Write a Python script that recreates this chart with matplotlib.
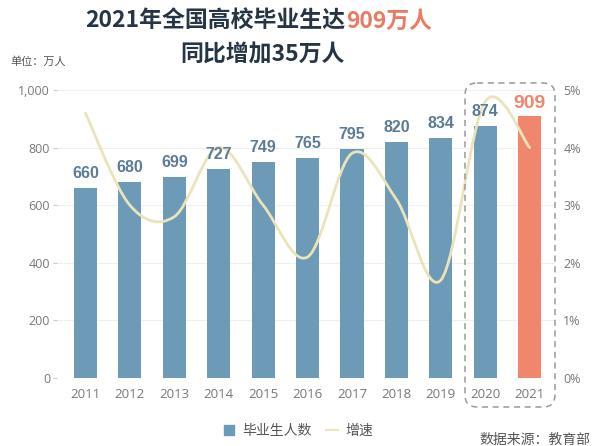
import matplotlib
matplotlib.use("Agg")
import matplotlib.pyplot as plt
import numpy as np
from matplotlib.path import Path
from matplotlib.patches import PathPatch, FancyBboxPatch
from matplotlib.lines import Line2D

plt.rcParams['font.family'] = ['Noto Sans CJK SC', 'DejaVu Sans']

# ---- data (万人 / %) ----
years = ["2011", "2012", "2013", "2014", "2015", "2016",
         "2017", "2018", "2019", "2020", "2021"]
graduates = [660, 680, 699, 727, 749, 765, 795, 820, 834, 874, 909]
growth = [4.6, 3.0, 2.8, 4.0, 3.0, 2.1, 3.9, 3.1, 1.7, 4.8, 4.0]
left_ticks = [0, 200, 400, 600, 800, 1000]
right_ticks = [0, 1, 2, 3, 4, 5]

BLUE = "#6d9ab7"
SALMON = "#f0866c"
NAVY = "#263545"
LABEL_BLUE = "#5b7b96"
LINE_COL = "#ebe3b9"
GREY = "#777777"


def smooth_path(xs, ys):
    """Catmull-Rom curve through the points, as cubic Bezier segments."""
    pts = np.column_stack([xs, ys]).astype(float)
    verts = [pts[0]]
    codes = [Path.MOVETO]
    n = len(pts)
    for i in range(n - 1):
        p0 = pts[i - 1] if i > 0 else pts[i]
        p1, p2 = pts[i], pts[i + 1]
        p3 = pts[i + 2] if i + 2 < n else pts[i + 1]
        c1 = p1 + (p2 - p0) / 6.0
        c2 = p2 - (p3 - p1) / 6.0
        verts += [c1, c2, p2]
        codes += [Path.CURVE4] * 3
    return Path(verts, codes)


fig = plt.figure(figsize=(5.96, 4.46), dpi=100, facecolor="white")
ax = fig.add_axes([57 / 596, 1 - 378 / 446, (555 - 57) / 596, (378 - 90) / 446])

x = np.arange(len(years))
colors = [BLUE] * (len(years) - 1) + [SALMON]
ax.bar(x, graduates, width=0.52, color=colors, zorder=2)

ax.set_xlim(-0.64, 10.57)
ax.set_ylim(0, 1000)
ax.set_yticks(left_ticks)
ax.set_yticklabels([f"{t:,}" for t in left_ticks])
ax.set_xticks(x)
ax.set_xticklabels(years)
ax.grid(axis="y", color="#efefef", lw=0.8, zorder=0)
for s in ax.spines.values():
    s.set_visible(False)
ax.tick_params(axis="y", length=3, color="#cccccc", labelcolor=GREY,
               labelsize=9, pad=2)
ax.tick_params(axis="x", length=0, labelcolor=GREY, labelsize=9.5, pad=7)
for t in ax.get_xticklabels() + ax.get_yticklabels():
    t.set_family(["Open Sans", "DejaVu Sans"])

ax2 = ax.twinx()
ax2.set_ylim(0, 5)
ax2.set_yticks(right_ticks)
ax2.set_yticklabels([f"{t}%" for t in right_ticks])
for s in ax2.spines.values():
    s.set_visible(False)
ax2.tick_params(axis="y", length=0, labelcolor=GREY, labelsize=9, pad=6)
for t in ax2.get_yticklabels():
    t.set_family(["Open Sans", "DejaVu Sans"])
ax2.add_patch(PathPatch(smooth_path(x, growth), fill=False, edgecolor=LINE_COL,
                        lw=2.0, zorder=3, capstyle="round"))

# value labels sit above the growth line
for xi, v, c in zip(x, graduates, colors):
    last = xi == len(years) - 1
    ax2.annotate(f"{v}", (xi, v), xycoords=ax.transData,
                 xytext=(0, 5 if not last else 3),
                 textcoords="offset points", ha="center", va="bottom",
                 fontsize=14 if last else 11.5, fontweight="bold",
                 color=SALMON if last else LABEL_BLUE,
                 family=["Liberation Sans", "DejaVu Sans"], zorder=5)

# overlay in pixel coordinates for box, titles, legend
ov = fig.add_axes([0, 0, 1, 1], facecolor="none")
ov.set_xlim(0, 596)
ov.set_ylim(446, 0)
ov.axis("off")

ov.add_patch(FancyBboxPatch((465, 83), 90, 324,
                            boxstyle="round,pad=0,rounding_size=12",
                            fill=False, edgecolor="#9a9a9a", lw=1.1,
                            linestyle=(0, (4, 3))))

ov.text(345, 21, "2021年全国高校毕业生达", ha="right", va="center",
        fontsize=16.5, fontweight="heavy", color=NAVY)
ov.text(346, 21, "909万人", ha="left", va="center",
        fontsize=16.5, fontweight="heavy", color="#e97b63")
ov.text(262, 55, "同比增加35万人", ha="center", va="center",
        fontsize=16.5, fontweight="heavy", color=NAVY)
ov.text(10, 62, "单位：万人", ha="left", va="center", fontsize=8, color="#555555")

handles = [
    Line2D([], [], marker="s", color=BLUE, linestyle="none", markersize=7),
    Line2D([], [], color=LINE_COL, lw=1.5),
]
fig.legend(handles, ["毕业生人数", "增速"], loc="center",
           bbox_to_anchor=(298 / 596, 1 - 431 / 446), ncol=2, frameon=False,
           fontsize=10, labelcolor="#555555", handlelength=0.9,
           handletextpad=0.5, columnspacing=1.0)

ov.text(590, 440, "数据来源：教育部", ha="right", va="center",
        fontsize=10, color="#555555")

fig.savefig("out.png", dpi=100, facecolor="white")
